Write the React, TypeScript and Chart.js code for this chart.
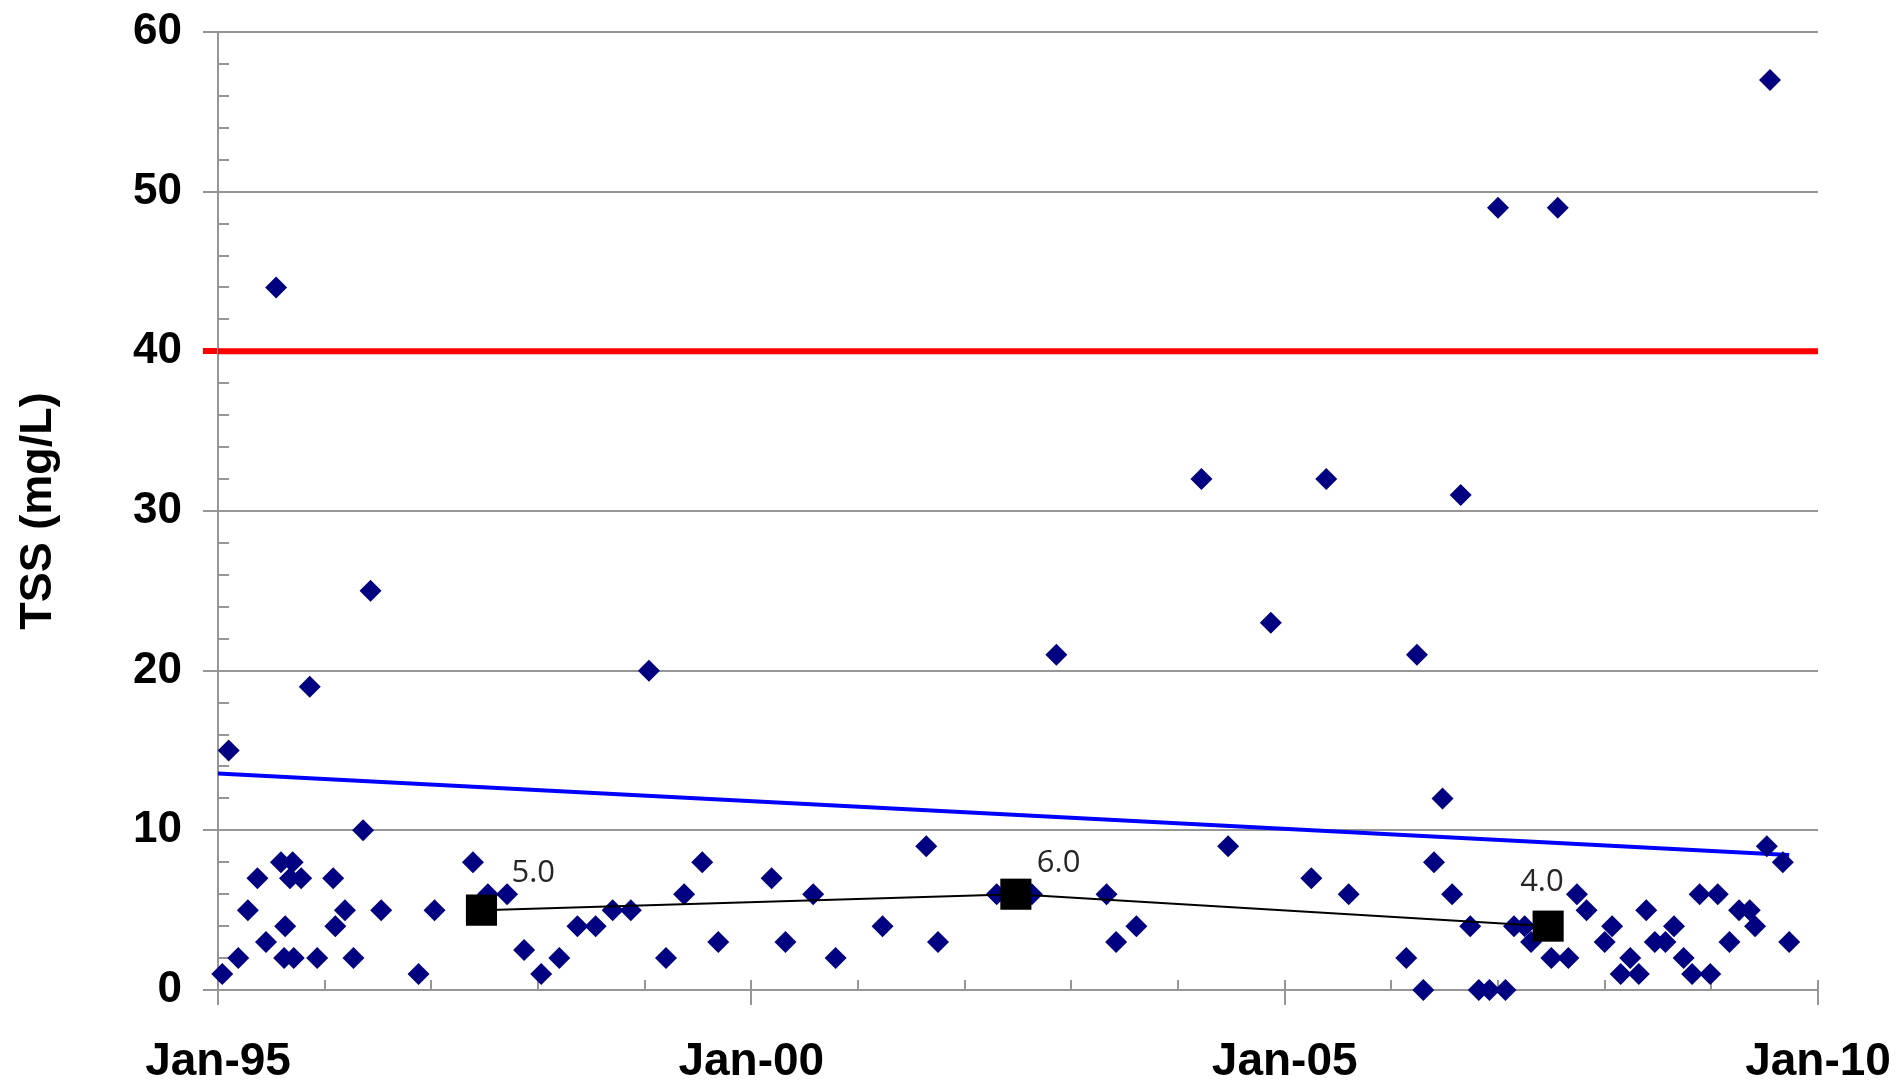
import React, { useEffect, useRef } from 'react';
import { Chart, registerables } from 'chart.js';

Chart.register(...registerables);

// ---- Data (decimal years, TSS mg/L) ----
const sampleYears = [
  1995.04, 1995.10, 1995.19, 1995.28, 1995.37, 1995.45, 1995.545, 1995.59, 1995.62, 1995.63,
  1995.675, 1995.70, 1995.71, 1995.78, 1995.86, 1995.93, 1996.08, 1996.10, 1996.19, 1996.27,
  1996.36, 1996.43, 1996.53, 1996.88, 1997.03, 1997.39, 1997.53, 1997.71, 1997.87, 1998.03,
  1998.20, 1998.37, 1998.54, 1998.70, 1998.87, 1999.04, 1999.20, 1999.37, 1999.54, 1999.69,
  2000.19, 2000.32, 2000.58, 2000.79, 2001.23, 2001.64, 2001.75, 2002.30, 2002.63, 2002.86,
  2003.33, 2003.42, 2003.61, 2004.22, 2004.47, 2004.87, 2005.25, 2005.39, 2005.60, 2006.14,
  2006.24, 2006.30, 2006.40, 2006.48, 2006.57, 2006.65, 2006.74, 2006.82, 2006.92, 2007.00,
  2007.07, 2007.15, 2007.25, 2007.31, 2007.50, 2007.56, 2007.66, 2007.74, 2007.83, 2008.00,
  2008.07, 2008.15, 2008.24, 2008.32, 2008.39, 2008.47, 2008.57, 2008.65, 2008.74, 2008.82,
  2008.89, 2008.99, 2009.06, 2009.17, 2009.26, 2009.36, 2009.41, 2009.52, 2009.55, 2009.67,
  2009.73,
];
const tssValues = [
  1, 15, 2, 5, 7, 3, 44, 8, 2, 4,
  7, 8, 2, 7, 19, 2, 7, 4, 5, 2,
  10, 25, 5, 1, 5, 8, 6, 6, 2.5, 1,
  2, 4, 4, 5, 5, 20, 2, 6, 8, 3,
  7, 3, 6, 2, 4, 9, 3, 6, 6, 21,
  6, 3, 4, 32, 9, 23, 7, 32, 6, 2,
  21, 0, 8, 12, 6, 31, 4, 0, 0, 49,
  0, 4, 4, 3, 2, 49, 2, 6, 5, 3,
  4, 1, 2, 1, 5, 3, 3, 4, 2, 1,
  6, 1, 6, 3, 5, 5, 4, 9, 57, 8,
  3,
];

const medianYears = [1997.47, 2002.48, 2007.47];
const medianValues = [5.0, 6.0, 4.0];

const trendYears = [1995.0, 2009.73];
const trendValues = [13.56, 8.45];

const standardYears = [1995.0, 2010.0];
const standardValues = [40, 40];

const xTickYears = [1995, 2000, 2005, 2010];
const xTickLabels = ['Jan-95', 'Jan-00', 'Jan-05', 'Jan-10'];
const yAxisTitle = 'TSS (mg/L)';

const GRID = '#969696';
const FONT = "'Liberation Sans', Arial, sans-serif";

const zeroPadding = (s: any) => {
  s.paddingLeft = 0;
  s.paddingRight = 0;
  s.paddingTop = 0;
  s.paddingBottom = 0;
};

const extrasPlugin = {
  id: 'extras',
  beforeDatasetsDraw(chart: any) {
    const { ctx, scales } = chart;
    const x = scales.x;
    const y = scales.y;
    ctx.save();
    ctx.strokeStyle = GRID;
    ctx.lineWidth = 2;
    // y minor ticks (inside)
    for (let v = 0; v <= 60; v += 2) {
      if (v % 10 === 0) continue;
      const py = Math.round(y.getPixelForValue(v));
      ctx.beginPath();
      ctx.moveTo(x.left, py);
      ctx.lineTo(x.left + 11, py);
      ctx.stroke();
    }
    // x ticks yearly
    for (let yr = 1995; yr <= 2010; yr += 1) {
      const px = Math.round(x.getPixelForValue(yr));
      const major = xTickYears.includes(yr);
      ctx.beginPath();
      ctx.moveTo(px, y.bottom - 10);
      ctx.lineTo(px, major ? y.bottom + 15 : y.bottom);
      ctx.stroke();
    }
    ctx.restore();
  },
  afterDatasetsDraw(chart: any, _args: any, opts: any) {
    const { ctx, scales } = chart;
    const offsets = opts.labelOffsets || [];
    ctx.save();
    ctx.fillStyle = '#262626';
    ctx.font = "31px 'Open Sans', 'Noto Sans', sans-serif";
    ctx.textAlign = 'left';
    ctx.textBaseline = 'alphabetic';
    medianValues.forEach((v, i) => {
      const px = scales.x.getPixelForValue(medianYears[i]);
      const py = scales.y.getPixelForValue(v);
      const [dx, dy] = offsets[i] || [20, -25];
      ctx.fillText(v.toFixed(1), px + dx, py + dy);
    });
    ctx.restore();
  },
};

export default function App() {
  const canvasRef = useRef<HTMLCanvasElement | null>(null);

  useEffect(() => {
    document.body.style.margin = '0';
    document.body.style.overflow = 'hidden';
    const canvas = canvasRef.current;
    if (!canvas) return;

    const chart = new Chart(canvas, {
      type: 'scatter',
      data: {
        datasets: [
          {
            label: 'Median',
            type: 'line',
            data: medianYears.map((x, i) => ({ x, y: medianValues[i] })),
            borderColor: '#000000',
            borderWidth: 2,
            backgroundColor: '#000000',
            pointStyle: 'rect',
            pointRadius: 22,
            pointBorderWidth: 0,
            tension: 0,
            showLine: true,
            order: 1,
            clip: false,
          },
          {
            label: 'TSS',
            data: sampleYears.map((x, i) => ({ x, y: tssValues[i] })),
            backgroundColor: '#000080',
            borderColor: '#000080',
            pointStyle: 'rectRot',
            pointRadius: 11,
            pointBorderWidth: 0,
            showLine: false,
            order: 2,
            clip: false,
          },
          {
            label: 'Trend',
            type: 'line',
            data: trendYears.map((x, i) => ({ x, y: trendValues[i] })),
            borderColor: '#0000ff',
            borderWidth: 4,
            pointRadius: 0,
            showLine: true,
            order: 3,
          },
          {
            label: 'Standard',
            type: 'line',
            data: standardYears.map((x, i) => ({ x, y: standardValues[i] })),
            borderColor: '#ff0000',
            borderWidth: 6,
            pointRadius: 0,
            showLine: true,
            order: 4,
            clip: false,
          },
        ],
      },
      options: {
        animation: false,
        responsive: false,
        devicePixelRatio: 1,
        layout: { padding: { top: 32, right: 80, left: 0, bottom: 0 } },
        plugins: {
          legend: { display: false },
          tooltip: { enabled: false },
          title: { display: false },
          extras: { labelOffsets: [[30, -28], [21, -22], [-28, -35]] },
        } as any,
        scales: {
          x: {
            type: 'linear',
            min: 1995,
            max: 2010,
            afterFit: (s: any) => { s.height = 91; zeroPadding(s); },
            ticks: {
              stepSize: 5,
              autoSkip: false,
              maxRotation: 0,
              padding: 45,
              color: '#000000',
              font: { family: FONT, size: 46, weight: 'bold' },
              callback: (v: any) => {
                const i = xTickYears.indexOf(Number(v));
                return i >= 0 ? xTickLabels[i] : '';
              },
            },
            grid: { drawOnChartArea: false, drawTicks: false },
            border: { display: true, color: GRID, width: 2 },
          },
          y: {
            type: 'linear',
            min: 0,
            max: 60,
            afterFit: (s: any) => { s.width = 218; zeroPadding(s); },
            ticks: {
              stepSize: 10,
              padding: 21,
              color: '#000000',
              font: { family: FONT, size: 44, weight: 'bold' },
            },
            grid: {
              color: GRID,
              lineWidth: 2,
              tickLength: 15,
              tickColor: (c: any) => (c.tick && c.tick.value === 40 ? '#ff0000' : GRID),
              tickWidth: (c: any) => (c.tick && c.tick.value === 40 ? 6 : 2),
            },
            border: { display: true, color: GRID, width: 2 },
            title: {
              display: true,
              text: yAxisTitle,
              color: '#000000',
              font: { family: FONT, size: 45, weight: 'bold' },
              padding: { top: 12, bottom: 0 },
            },
          },
        },
      },
      plugins: [extrasPlugin],
    });

    return () => chart.destroy();
  }, []);

  return (
    <div style={{ width: 1898, height: 1081, position: 'relative', background: '#ffffff' }}>
      <canvas ref={canvasRef} width={1898} height={1081} style={{ display: 'block' }} />
    </div>
  );
}
